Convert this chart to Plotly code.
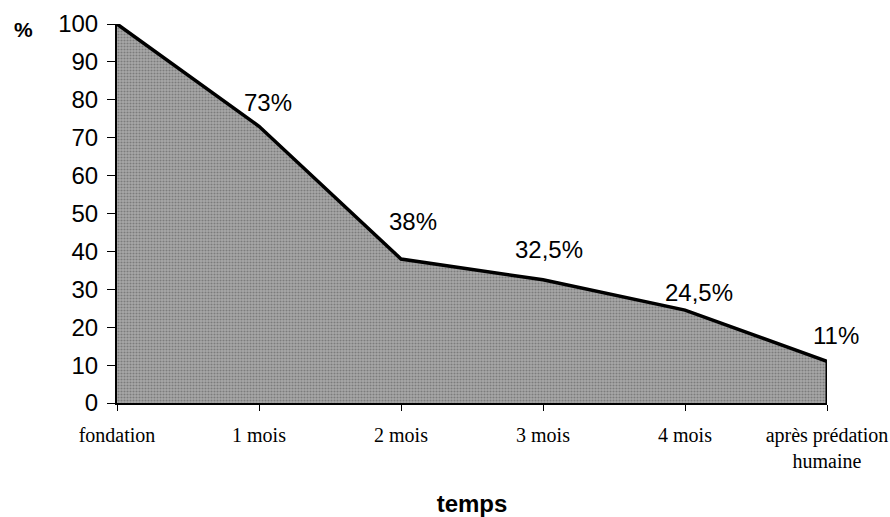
import plotly.graph_objects as go

categories = ["fondation", "1 mois", "2 mois", "3 mois", "4 mois", "après prédation<br>humaine"]
survival = [100, 73, 38, 32.5, 24.5, 11]
value_labels = ["", "73%", "38%", "32,5%", "24,5%", "11%"]
y_ticks = [0, 10, 20, 30, 40, 50, 60, 70, 80, 90, 100]

fig = go.Figure()
fig.add_trace(go.Scatter(
    x=categories, y=survival, mode="lines", fill="tozeroy",
    line=dict(color="black", width=3.5),
    fillcolor="#9c9c9c",
    fillpattern=dict(shape=".", bgcolor="#a9a9a9", fgcolor="#505050", size=3, solidity=0.4),
    hoverinfo="skip", showlegend=False,
))

# right edge of area
fig.add_shape(type="line", xref="x", yref="y",
              x0=categories[-1], x1=categories[-1], y0=0, y1=survival[-1],
              line=dict(color="black", width=3))

offsets = [(0, 0), (9, 24), (12, 37), (6, 30), (14, 18), (9, 26)]
for cat, val, lab, (dx, dy) in zip(categories, survival, value_labels, offsets):
    if not lab:
        continue
    fig.add_annotation(x=cat, y=val, xref="x", yref="y", text=lab, showarrow=False,
                       xshift=dx, yshift=dy,
                       font=dict(family="Liberation Sans, Arial", size=24, color="black"))

fig.add_annotation(xref="paper", yref="paper", x=0, y=1, text="<b>%</b>", showarrow=False,
                   xanchor="center", yanchor="middle", xshift=-94, yshift=-5,
                   font=dict(family="Liberation Sans, Arial", size=21, color="black"))

fig.update_layout(
    width=890, height=517,
    margin=dict(l=117, r=63, t=24, b=114),
    paper_bgcolor="white", plot_bgcolor="white",
    xaxis=dict(
        type="category", range=[0, len(categories) - 1],
        automargin=False,
        showgrid=False, zeroline=False,
        showline=True, linecolor="black", linewidth=2,
        ticks="outside", ticklen=6, tickwidth=1, tickcolor="black",
        ticklabelstandoff=7,
        tickfont=dict(family="Liberation Serif, Times New Roman", size=20, color="black"),
        title=dict(text="<b>temps</b>", standoff=28,
                   font=dict(family="Liberation Sans, Arial", size=24, color="black")),
    ),
    yaxis=dict(
        range=[0, 100], tickvals=y_ticks,
        automargin=False,
        showgrid=False, zeroline=False,
        showline=True, linecolor="black", linewidth=2,
        ticks="outside", ticklen=8, tickwidth=1, tickcolor="black",
        ticklabelstandoff=4,
        tickfont=dict(family="Liberation Sans, Arial", size=24, color="black"),
    ),
)

fig.write_html("out.html", config={"displayModeBar": False},
               post_script="document.body.style.margin='0';")
